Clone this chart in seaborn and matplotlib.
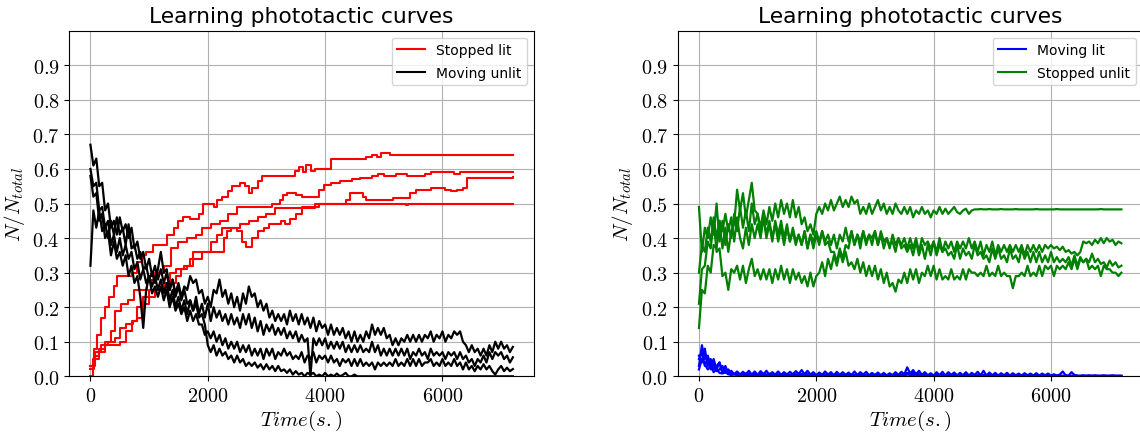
import numpy as np
import pandas as pd
import matplotlib
matplotlib.use("Agg")
import matplotlib.pyplot as plt
import seaborn as sns
from matplotlib.lines import Line2D
from matplotlib.ticker import FuncFormatter

# ---------------- data ----------------
# common sampling grid (seconds), one sample every 50 s from 0 to 7200
TIME = np.arange(0, 7201, 50)

# Left panel: "Moving unlit" (black, noisy) – 4 runs
MOVING_UNLIT_1 = [
    0.67, 0.61, 0.63, 0.55, 0.56, 0.48, 0.50, 0.43, 0.45, 0.41,
    0.46, 0.42, 0.44, 0.40, 0.43, 0.37, 0.39, 0.34, 0.36, 0.31,
    0.34, 0.29, 0.32, 0.28, 0.31, 0.27, 0.30, 0.25, 0.28, 0.24,
    0.27, 0.23, 0.26, 0.25, 0.29, 0.27, 0.28, 0.24, 0.25, 0.21,
    0.23, 0.20, 0.25, 0.24, 0.28, 0.23, 0.25, 0.21, 0.24, 0.20,
    0.23, 0.19, 0.24, 0.21, 0.26, 0.23, 0.24, 0.20, 0.22, 0.19,
    0.21, 0.17, 0.19, 0.16, 0.18, 0.16, 0.18, 0.15, 0.19, 0.16,
    0.18, 0.15, 0.18, 0.15, 0.17, 0.14, 0.17, 0.13, 0.16, 0.14,
    0.15, 0.12, 0.15, 0.12, 0.14, 0.12, 0.14, 0.11, 0.13, 0.10,
    0.13, 0.10, 0.12, 0.10, 0.13, 0.11, 0.15, 0.12, 0.14, 0.12,
    0.14, 0.11, 0.12, 0.09, 0.11, 0.09, 0.11, 0.10, 0.12, 0.10,
    0.12, 0.10, 0.12, 0.10, 0.12, 0.11, 0.13, 0.10, 0.12, 0.11,
    0.13, 0.10, 0.12, 0.11, 0.13, 0.12, 0.13, 0.10, 0.09, 0.07,
    0.09, 0.07, 0.08, 0.06, 0.08, 0.06, 0.09, 0.07, 0.10, 0.08,
    0.10, 0.08, 0.09, 0.07, 0.085]
MOVING_UNLIT_2 = [
    0.60, 0.55, 0.56, 0.48, 0.49, 0.43, 0.45, 0.38, 0.41, 0.36,
    0.40, 0.35, 0.38, 0.34, 0.36, 0.31, 0.33, 0.28, 0.31, 0.27,
    0.29, 0.26, 0.29, 0.25, 0.28, 0.24, 0.27, 0.22, 0.25, 0.20,
    0.23, 0.19, 0.22, 0.18, 0.22, 0.19, 0.23, 0.18, 0.21, 0.17,
    0.21, 0.16, 0.20, 0.17, 0.19, 0.16, 0.18, 0.15, 0.18, 0.15,
    0.17, 0.14, 0.18, 0.15, 0.18, 0.14, 0.17, 0.13, 0.16, 0.12,
    0.15, 0.13, 0.15, 0.12, 0.14, 0.12, 0.14, 0.11, 0.13, 0.11,
    0.13, 0.10, 0.12, 0.10, 0.11, 0.00, 0.11, 0.09, 0.11, 0.09,
    0.11, 0.08, 0.10, 0.08, 0.10, 0.08, 0.10, 0.07, 0.09, 0.07,
    0.09, 0.07, 0.09, 0.07, 0.08, 0.07, 0.10, 0.07, 0.09, 0.06,
    0.08, 0.06, 0.08, 0.06, 0.08, 0.06, 0.08, 0.06, 0.08, 0.05,
    0.07, 0.06, 0.08, 0.06, 0.07, 0.05, 0.08, 0.06, 0.07, 0.06,
    0.07, 0.05, 0.07, 0.06, 0.07, 0.05, 0.07, 0.05, 0.06, 0.04,
    0.05, 0.03, 0.05, 0.04, 0.06, 0.04, 0.07, 0.05, 0.07, 0.06,
    0.07, 0.05, 0.06, 0.04, 0.055]
MOVING_UNLIT_3 = [
    0.58, 0.52, 0.53, 0.45, 0.47, 0.40, 0.42, 0.35, 0.39, 0.34,
    0.36, 0.32, 0.35, 0.29, 0.32, 0.27, 0.29, 0.23, 0.14, 0.25,
    0.29, 0.24, 0.26, 0.23, 0.26, 0.22, 0.25, 0.20, 0.23, 0.19,
    0.21, 0.18, 0.20, 0.16, 0.19, 0.16, 0.18, 0.15, 0.15, 0.12,
    0.13, 0.11, 0.13, 0.10, 0.12, 0.09, 0.11, 0.08, 0.10, 0.08,
    0.10, 0.07, 0.09, 0.07, 0.09, 0.06, 0.08, 0.06, 0.08, 0.05,
    0.08, 0.06, 0.08, 0.05, 0.07, 0.06, 0.08, 0.06, 0.07, 0.05,
    0.06, 0.05, 0.07, 0.04, 0.06, 0.05, 0.07, 0.04, 0.06, 0.05,
    0.06, 0.04, 0.06, 0.04, 0.05, 0.03, 0.05, 0.04, 0.05, 0.03,
    0.05, 0.03, 0.05, 0.03, 0.04, 0.03, 0.04, 0.02, 0.04, 0.03,
    0.04, 0.03, 0.04, 0.03, 0.05, 0.03, 0.04, 0.03, 0.05, 0.03,
    0.05, 0.03, 0.05, 0.03, 0.04, 0.04, 0.05, 0.03, 0.04, 0.03,
    0.05, 0.03, 0.04, 0.03, 0.05, 0.03, 0.04, 0.02, 0.04, 0.02,
    0.03, 0.015, 0.03, 0.02, 0.035, 0.02, 0.03, 0.015, 0.005, 0.02,
    0.03, 0.015, 0.025, 0.015, 0.021]
MOVING_UNLIT_4 = [
    0.32, 0.48, 0.43, 0.48, 0.42, 0.44, 0.40, 0.45, 0.41, 0.46,
    0.41, 0.43, 0.38, 0.44, 0.37, 0.38, 0.34, 0.36, 0.31, 0.32,
    0.28, 0.30, 0.27, 0.31, 0.36, 0.30, 0.31, 0.25, 0.28, 0.23,
    0.26, 0.22, 0.25, 0.21, 0.22, 0.19, 0.21, 0.17, 0.18, 0.15,
    0.09, 0.07, 0.09, 0.06, 0.08, 0.06, 0.07, 0.05, 0.06, 0.04,
    0.06, 0.04, 0.05, 0.03, 0.04, 0.03, 0.04, 0.025, 0.035, 0.02,
    0.035, 0.02, 0.03, 0.015, 0.03, 0.015, 0.02, 0.01, 0.02, 0.005,
    0.015, 0.005, 0.01, 0.0, 0.01, 0.005, 0.01, 0.0, 0.005, 0.0,
    0.01, 0.0, 0.005, 0.0, 0.008, 0.0, 0.004, 0.01, 0.0, 0.0,
    0.005, 0.0, 0.0, 0.0, 0.0, 0.0, 0.0, 0.0, 0.0, 0.0,
    0.0, 0.0, 0.0, 0.0, 0.0, 0.0, 0.0, 0.0, 0.0, 0.0,
    0.0, 0.0, 0.0, 0.0, 0.0, 0.0, 0.0, 0.0, 0.0, 0.0,
    0.0, 0.0, 0.0, 0.0, 0.0, 0.0, 0.0, 0.0, 0.0, 0.0,
    0.0, 0.0, 0.0, 0.0, 0.0, 0.0, 0.0, 0.0, 0.0, 0.0,
    0.0, 0.0, 0.0, 0.0, 0.0]

# Left panel: "Stopped lit" (red, staircase) – change points (time, value)
STOP_LIT_1_T = [0, 60, 120, 180, 250, 320, 400, 450, 560, 700,
                800, 880, 950, 1060, 1180, 1300, 1420, 1500, 1580, 1700,
                1850, 1920, 2000, 2100, 2160, 2250, 2340, 2420, 2550, 2640,
                2700, 2760, 2850, 2920, 3200, 3480, 3560, 3620, 3680, 3760,
                3820, 4000, 4100, 4700, 4800, 4880, 4950, 5100, 7200]
STOP_LIT_1_V = [0.03, 0.08, 0.12, 0.17, 0.20, 0.23, 0.26, 0.29, 0.29, 0.30,
                0.33, 0.35, 0.36, 0.38, 0.38, 0.41, 0.43, 0.45, 0.46, 0.455,
                0.47, 0.50, 0.50, 0.49, 0.51, 0.52, 0.535, 0.55, 0.56, 0.55,
                0.53, 0.545, 0.565, 0.58, 0.58, 0.595, 0.605, 0.59, 0.61, 0.595,
                0.60, 0.60, 0.63, 0.635, 0.64, 0.635, 0.645, 0.64, 0.64]
STOP_LIT_2_T = [0, 50, 150, 250, 350, 420, 520, 640, 750, 880,
                960, 1100, 1250, 1380, 1500, 1650, 1800, 1900, 2050, 2200,
                2350, 2500, 3100, 3230, 3280, 3350, 3500, 3600, 3900, 3980,
                4100, 4250, 4450, 4600, 4800, 4900, 5000, 5200, 5400, 5700,
                5800, 6200, 6300, 6500, 7200]
STOP_LIT_2_V = [0.0, 0.05, 0.08, 0.10, 0.13, 0.19, 0.21, 0.22, 0.25, 0.25,
                0.28, 0.30, 0.32, 0.37, 0.39, 0.40, 0.41, 0.43, 0.44, 0.45,
                0.47, 0.49, 0.50, 0.51, 0.525, 0.53, 0.525, 0.52, 0.54, 0.555,
                0.56, 0.565, 0.57, 0.575, 0.58, 0.585, 0.58, 0.585, 0.58, 0.585,
                0.59, 0.585, 0.59, 0.592, 0.59]
STOP_LIT_3_T = [0, 60, 150, 250, 350, 500, 600, 700, 800, 900,
                1000, 1100, 1250, 1350, 1450, 1550, 1650, 1750, 1900, 2050,
                2150, 2250, 2400, 2500, 2580, 2650, 2750, 2850, 2950, 3050,
                3250, 3320, 3400, 3500, 3600, 3900, 4350, 4420, 4600, 4650,
                4700, 5150, 5450, 5550, 5800, 5950, 6050, 6150, 6250, 6350,
                6420, 7200]
STOP_LIT_3_V = [0.02, 0.06, 0.07, 0.09, 0.09, 0.10, 0.13, 0.16, 0.17, 0.21,
                0.23, 0.25, 0.25, 0.27, 0.29, 0.31, 0.32, 0.34, 0.36, 0.39,
                0.41, 0.43, 0.43, 0.42, 0.39, 0.375, 0.40, 0.42, 0.43, 0.44,
                0.45, 0.44, 0.455, 0.47, 0.49, 0.50, 0.51, 0.53, 0.53, 0.52,
                0.51, 0.515, 0.53, 0.54, 0.545, 0.545, 0.54, 0.535, 0.54, 0.545,
                0.575, 0.578]
STOP_LIT_4_T = [0, 80, 180, 300, 420, 500, 600, 720, 800, 900,
                1000, 1150, 1250, 1350, 1450, 1600, 1700, 1750, 2280, 2330,
                2400, 2550, 2700, 2850, 3000, 3150, 3820, 5380, 5420, 7200]
STOP_LIT_4_V = [0.03, 0.07, 0.09, 0.10, 0.11, 0.14, 0.15, 0.16, 0.20, 0.23,
                0.25, 0.25, 0.27, 0.30, 0.31, 0.32, 0.34, 0.36, 0.40, 0.42,
                0.43, 0.44, 0.45, 0.46, 0.47, 0.486, 0.50, 0.495, 0.50, 0.50]

# Right panel: "Stopped unlit" (green) – 4 runs
STOP_UNLIT_1 = [
    0.49, 0.36, 0.43, 0.40, 0.46, 0.41, 0.50, 0.39, 0.45, 0.38,
    0.44, 0.40, 0.47, 0.42, 0.49, 0.43, 0.48, 0.42, 0.50, 0.44,
    0.47, 0.43, 0.48, 0.44, 0.49, 0.45, 0.50, 0.46, 0.51, 0.47,
    0.50, 0.46, 0.51, 0.46, 0.49, 0.44, 0.46, 0.42, 0.44, 0.41,
    0.47, 0.49, 0.47, 0.50, 0.48, 0.51, 0.48, 0.50, 0.52, 0.49,
    0.51, 0.49, 0.52, 0.50, 0.51, 0.47, 0.49, 0.47, 0.50, 0.47,
    0.49, 0.51, 0.48, 0.50, 0.47, 0.49, 0.47, 0.50, 0.48, 0.47,
    0.49, 0.47, 0.49, 0.46, 0.48, 0.47, 0.49, 0.47, 0.48, 0.46,
    0.48, 0.47, 0.49, 0.47, 0.485, 0.47, 0.48, 0.49, 0.475, 0.47,
    0.48, 0.485, 0.47, 0.48, 0.483, 0.483, 0.484, 0.483, 0.483, 0.484,
    0.483, 0.483, 0.483, 0.484, 0.483, 0.483, 0.483, 0.483, 0.484, 0.483,
    0.483, 0.483, 0.483, 0.483, 0.483, 0.484, 0.483, 0.483, 0.483, 0.483,
    0.483, 0.483, 0.484, 0.483, 0.483, 0.483, 0.483, 0.483, 0.483, 0.483,
    0.483, 0.483, 0.483, 0.483, 0.483, 0.483, 0.483, 0.484, 0.483, 0.483,
    0.483, 0.483, 0.483, 0.483, 0.483]
STOP_UNLIT_2 = [
    0.30, 0.38, 0.36, 0.43, 0.39, 0.46, 0.40, 0.45, 0.37, 0.43,
    0.36, 0.42, 0.44, 0.54, 0.48, 0.53, 0.46, 0.51, 0.56, 0.48,
    0.47, 0.41, 0.46, 0.40, 0.44, 0.39, 0.45, 0.41, 0.45, 0.40,
    0.44, 0.39, 0.43, 0.39, 0.41, 0.38, 0.42, 0.37, 0.41, 0.39,
    0.42, 0.39, 0.42, 0.39, 0.41, 0.38, 0.41, 0.37, 0.41, 0.39,
    0.43, 0.39, 0.42, 0.38, 0.41, 0.37, 0.42, 0.38, 0.41, 0.40,
    0.42, 0.38, 0.42, 0.39, 0.40, 0.37, 0.41, 0.38, 0.40, 0.38,
    0.40, 0.37, 0.40, 0.37, 0.40, 0.36, 0.40, 0.38, 0.39, 0.37,
    0.39, 0.36, 0.40, 0.36, 0.39, 0.37, 0.39, 0.36, 0.39, 0.37,
    0.39, 0.37, 0.40, 0.37, 0.39, 0.36, 0.39, 0.35, 0.38, 0.36,
    0.39, 0.35, 0.38, 0.36, 0.38, 0.36, 0.38, 0.36, 0.38, 0.36,
    0.38, 0.35, 0.38, 0.36, 0.38, 0.36, 0.38, 0.36, 0.38, 0.37,
    0.38, 0.37, 0.375, 0.365, 0.375, 0.36, 0.365, 0.355, 0.36, 0.35,
    0.36, 0.39, 0.385, 0.39, 0.38, 0.395, 0.385, 0.40, 0.385, 0.40,
    0.39, 0.395, 0.38, 0.39, 0.385]
STOP_UNLIT_3 = [
    0.14, 0.25, 0.24, 0.32, 0.30, 0.38, 0.37, 0.45, 0.42, 0.47,
    0.42, 0.46, 0.39, 0.46, 0.40, 0.37, 0.43, 0.38, 0.44, 0.40,
    0.44, 0.40, 0.46, 0.41, 0.45, 0.40, 0.44, 0.39, 0.43, 0.38,
    0.43, 0.39, 0.42, 0.38, 0.41, 0.38, 0.42, 0.37, 0.41, 0.37,
    0.41, 0.38, 0.42, 0.38, 0.39, 0.36, 0.36, 0.33, 0.37, 0.34,
    0.38, 0.37, 0.42, 0.38, 0.41, 0.39, 0.42, 0.39, 0.41, 0.38,
    0.42, 0.38, 0.41, 0.37, 0.40, 0.38, 0.39, 0.36, 0.40, 0.37,
    0.38, 0.36, 0.38, 0.35, 0.39, 0.35, 0.38, 0.34, 0.38, 0.35,
    0.39, 0.35, 0.38, 0.36, 0.37, 0.35, 0.36, 0.34, 0.38, 0.34,
    0.37, 0.35, 0.36, 0.34, 0.38, 0.35, 0.36, 0.34, 0.35, 0.33,
    0.37, 0.34, 0.37, 0.34, 0.35, 0.33, 0.37, 0.34, 0.35, 0.33,
    0.37, 0.34, 0.36, 0.33, 0.36, 0.33, 0.36, 0.33, 0.35, 0.33,
    0.36, 0.33, 0.345, 0.33, 0.34, 0.33, 0.345, 0.32, 0.35, 0.32,
    0.345, 0.33, 0.34, 0.33, 0.355, 0.33, 0.34, 0.325, 0.33, 0.315,
    0.335, 0.32, 0.33, 0.315, 0.32]
STOP_UNLIT_4 = [
    0.21, 0.31, 0.32, 0.39, 0.37, 0.45, 0.36, 0.37, 0.29, 0.30,
    0.25, 0.31, 0.30, 0.32, 0.28, 0.32, 0.27, 0.31, 0.34, 0.29,
    0.31, 0.28, 0.31, 0.28, 0.31, 0.27, 0.31, 0.28, 0.32, 0.28,
    0.31, 0.27, 0.31, 0.28, 0.30, 0.27, 0.29, 0.26, 0.30, 0.26,
    0.29, 0.30, 0.33, 0.29, 0.34, 0.31, 0.35, 0.32, 0.36, 0.33,
    0.36, 0.32, 0.33, 0.31, 0.34, 0.30, 0.33, 0.29, 0.32, 0.29,
    0.32, 0.28, 0.31, 0.27, 0.30, 0.26, 0.27, 0.245, 0.28, 0.27,
    0.30, 0.27, 0.31, 0.28, 0.31, 0.27, 0.30, 0.29, 0.32, 0.29,
    0.32, 0.28, 0.31, 0.28, 0.29, 0.28, 0.31, 0.28, 0.29, 0.28,
    0.31, 0.28, 0.31, 0.30, 0.30, 0.29, 0.30, 0.29, 0.32, 0.29,
    0.30, 0.29, 0.32, 0.29, 0.30, 0.29, 0.29, 0.255, 0.29, 0.29,
    0.30, 0.29, 0.32, 0.29, 0.30, 0.29, 0.32, 0.29, 0.32, 0.31,
    0.32, 0.29, 0.32, 0.31, 0.32, 0.31, 0.33, 0.31, 0.34, 0.31,
    0.34, 0.33, 0.34, 0.31, 0.32, 0.31, 0.32, 0.29, 0.32, 0.31,
    0.31, 0.30, 0.30, 0.29, 0.30]

# Right panel: "Moving lit" (blue) – 4 runs, all close to zero
MOVING_LIT_1 = [
    0.03, 0.09, 0.05, 0.06, 0.03, 0.05, 0.02, 0.04, 0.01, 0.03,
    0.008, 0.016, 0.006, 0.014, 0.005, 0.013, 0.006, 0.016, 0.005, 0.014,
    0.004, 0.015, 0.006, 0.016, 0.004, 0.012, 0.005, 0.014, 0.004, 0.012,
    0.005, 0.013, 0.006, 0.015, 0.007, 0.018, 0.006, 0.016, 0.005, 0.012,
    0.003, 0.011, 0.004, 0.014, 0.005, 0.012, 0.003, 0.013, 0.004, 0.012,
    0.004, 0.011, 0.003, 0.014, 0.004, 0.012, 0.005, 0.013, 0.003, 0.01,
    0.004, 0.011, 0.003, 0.01, 0.002, 0.009, 0.003, 0.012, 0.004, 0.013,
    0.006, 0.026, 0.008, 0.018, 0.006, 0.016, 0.004, 0.012, 0.003, 0.009,
    0.002, 0.012, 0.003, 0.013, 0.002, 0.012, 0.004, 0.011, 0.003, 0.01,
    0.003, 0.012, 0.002, 0.01, 0.004, 0.013, 0.003, 0.016, 0.002, 0.011,
    0.003, 0.01, 0.002, 0.009, 0.003, 0.01, 0.002, 0.009, 0.003, 0.008,
    0.002, 0.009, 0.003, 0.008, 0.002, 0.009, 0.002, 0.008, 0.003, 0.008,
    0.002, 0.006, 0.002, 0.005, 0.014, 0.003, 0.002, 0.012, 0.004, 0.002,
    0.002, 0.003, 0.002, 0.003, 0.002, 0.003, 0.002, 0.002, 0.003, 0.002,
    0.002, 0.003, 0.002, 0.002, 0.002]
MOVING_LIT_2 = [
    0.06, 0.04, 0.08, 0.03, 0.05, 0.02, 0.03, 0.04, 0.01, 0.02,
    0.008, 0.005, 0.008, 0.004, 0.006, 0.004, 0.008, 0.005, 0.003, 0.006,
    0.004, 0.008, 0.005, 0.003, 0.006, 0.004, 0.002, 0.005, 0.003, 0.006,
    0.004, 0.002, 0.004, 0.006, 0.003, 0.005, 0.008, 0.004, 0.006, 0.003,
    0.002, 0.004, 0.006, 0.003, 0.005, 0.002, 0.004, 0.006, 0.003, 0.002,
    0.004, 0.006, 0.003, 0.004, 0.002, 0.005, 0.003, 0.004, 0.002, 0.003,
    0.002, 0.004, 0.003, 0.002, 0.004, 0.003, 0.002, 0.004, 0.003, 0.005,
    0.006, 0.01, 0.008, 0.006, 0.004, 0.003, 0.005, 0.003, 0.002, 0.004,
    0.003, 0.002, 0.004, 0.003, 0.002, 0.003, 0.004, 0.002, 0.003, 0.002,
    0.004, 0.002, 0.003, 0.002, 0.003, 0.002, 0.004, 0.003, 0.002, 0.003,
    0.002, 0.003, 0.002, 0.001, 0.002, 0.003, 0.002, 0.001, 0.002, 0.001,
    0.002, 0.001, 0.002, 0.001, 0.002, 0.001, 0.002, 0.001, 0.001, 0.002,
    0.001, 0.001, 0.002, 0.001, 0.001, 0.001, 0.0, 0.001, 0.0, 0.001,
    0.0, 0.0, 0.0, 0.0, 0.0, 0.0, 0.0, 0.0, 0.0, 0.0,
    0.0, 0.0, 0.0, 0.0, 0.0]
MOVING_LIT_3 = [
    0.05, 0.07, 0.03, 0.055, 0.02, 0.04, 0.015, 0.02, 0.03, 0.01,
    0.02, 0.008, 0.006, 0.01, 0.006, 0.008, 0.005, 0.007, 0.005, 0.008,
    0.006, 0.004, 0.007, 0.005, 0.008, 0.004, 0.006, 0.005, 0.004, 0.006,
    0.005, 0.004, 0.006, 0.004, 0.005, 0.007, 0.004, 0.006, 0.005, 0.004,
    0.003, 0.005, 0.004, 0.006, 0.003, 0.005, 0.004, 0.003, 0.005, 0.004,
    0.003, 0.004, 0.005, 0.003, 0.004, 0.003, 0.005, 0.004, 0.003, 0.004,
    0.003, 0.002, 0.004, 0.003, 0.002, 0.003, 0.004, 0.002, 0.003, 0.004,
    0.005, 0.008, 0.006, 0.01, 0.008, 0.006, 0.004, 0.005, 0.003, 0.004,
    0.003, 0.004, 0.002, 0.003, 0.004, 0.002, 0.003, 0.004, 0.002, 0.003,
    0.002, 0.003, 0.004, 0.002, 0.003, 0.002, 0.003, 0.004, 0.002, 0.003,
    0.002, 0.003, 0.002, 0.003, 0.002, 0.002, 0.003, 0.002, 0.002, 0.003,
    0.002, 0.002, 0.003, 0.002, 0.002, 0.003, 0.002, 0.002, 0.003, 0.002,
    0.002, 0.002, 0.001, 0.002, 0.001, 0.002, 0.001, 0.001, 0.002, 0.001,
    0.001, 0.001, 0.001, 0.001, 0.001, 0.001, 0.001, 0.001, 0.001, 0.001,
    0.001, 0.001, 0.001, 0.001, 0.001]
MOVING_LIT_4 = [
    0.02, 0.05, 0.035, 0.02, 0.03, 0.012, 0.02, 0.01, 0.008, 0.012,
    0.006, 0.004, 0.006, 0.003, 0.005, 0.003, 0.004, 0.002, 0.004, 0.003,
    0.002, 0.003, 0.002, 0.004, 0.002, 0.003, 0.002, 0.003, 0.002, 0.004,
    0.003, 0.002, 0.003, 0.002, 0.004, 0.003, 0.002, 0.003, 0.002, 0.003,
    0.002, 0.003, 0.002, 0.004, 0.002, 0.003, 0.002, 0.003, 0.002, 0.003,
    0.002, 0.003, 0.002, 0.002, 0.003, 0.002, 0.003, 0.002, 0.002, 0.003,
    0.002, 0.002, 0.003, 0.002, 0.002, 0.003, 0.002, 0.002, 0.003, 0.002,
    0.003, 0.005, 0.004, 0.003, 0.002, 0.003, 0.002, 0.003, 0.002, 0.002,
    0.002, 0.003, 0.002, 0.002, 0.003, 0.002, 0.002, 0.003, 0.002, 0.002,
    0.002, 0.003, 0.002, 0.002, 0.002, 0.003, 0.002, 0.002, 0.002, 0.003,
    0.002, 0.002, 0.002, 0.001, 0.002, 0.002, 0.001, 0.002, 0.002, 0.001,
    0.002, 0.001, 0.002, 0.001, 0.002, 0.001, 0.002, 0.001, 0.002, 0.001,
    0.001, 0.001, 0.001, 0.001, 0.001, 0.001, 0.001, 0.001, 0.001, 0.001,
    0.0, 0.0, 0.0, 0.0, 0.0, 0.0, 0.0, 0.0, 0.0, 0.0,
    0.0, 0.0, 0.0, 0.0, 0.0]

TITLE = "Learning phototactic curves"
X_TICKS = [0, 2000, 4000, 6000]
Y_TICKS = [0.0, 0.1, 0.2, 0.3, 0.4, 0.5, 0.6, 0.7, 0.8, 0.9]


def grid_frame(runs):
    parts = []
    for i, vals in enumerate(runs):
        assert len(vals) == len(TIME), (i, len(vals))
        parts.append(pd.DataFrame({"time": TIME, "value": vals, "run": i}))
    return pd.concat(parts, ignore_index=True)


def step_frame(runs):
    parts = []
    for i, (t, v) in enumerate(runs):
        assert len(t) == len(v), (i, len(t), len(v))
        parts.append(pd.DataFrame({"time": t, "value": v, "run": i}))
    return pd.concat(parts, ignore_index=True)


black_df = grid_frame([MOVING_UNLIT_1, MOVING_UNLIT_2, MOVING_UNLIT_3, MOVING_UNLIT_4])
red_df = step_frame([(STOP_LIT_1_T, STOP_LIT_1_V), (STOP_LIT_2_T, STOP_LIT_2_V),
                     (STOP_LIT_3_T, STOP_LIT_3_V), (STOP_LIT_4_T, STOP_LIT_4_V)])
green_df = grid_frame([STOP_UNLIT_1, STOP_UNLIT_2, STOP_UNLIT_3, STOP_UNLIT_4])
blue_df = grid_frame([MOVING_LIT_1, MOVING_LIT_2, MOVING_LIT_3, MOVING_LIT_4])

# ---------------- style ----------------
plt.rcParams.update({
    "font.family": ["DejaVu Sans"],
    "mathtext.fontset": "cm",
    "axes.linewidth": 0.8,
    "axes.edgecolor": "black",
})

fig = plt.figure(figsize=(11.4, 4.35), dpi=100)
ax1 = fig.add_axes([0.0608, 0.1326, 0.4076, 0.7945])
ax2 = fig.add_axes([0.5946, 0.1326, 0.4076, 0.7945])

LW = 1.5
sns.lineplot(data=red_df, x="time", y="value", units="run", estimator=None,
             sort=False, color="red", lw=LW, drawstyle="steps-post",
             legend=False, ax=ax1)
sns.lineplot(data=black_df, x="time", y="value", units="run", estimator=None,
             sort=False, color="black", lw=1.6, legend=False, ax=ax1)

sns.lineplot(data=blue_df, x="time", y="value", units="run", estimator=None,
             sort=False, color="blue", lw=1.6, legend=False, ax=ax2)
sns.lineplot(data=green_df, x="time", y="value", units="run", estimator=None,
             sort=False, color="green", lw=1.6, legend=False, ax=ax2)

legends = [
    (ax1, [("Stopped lit", "red"), ("Moving unlit", "black")]),
    (ax2, [("Moving lit", "blue"), ("Stopped unlit", "green")]),
]
for ax, items in legends:
    ax.set_xlim(-360, 7560)
    ax.set_ylim(0, 1.0)
    ax.set_xticks(X_TICKS)
    ax.set_yticks(Y_TICKS)
    ax.xaxis.set_major_formatter(FuncFormatter(lambda v, p: f"${v:.0f}$"))
    ax.yaxis.set_major_formatter(FuncFormatter(lambda v, p: f"${v:.1f}$"))
    ax.tick_params(labelsize=14.5, length=3.5, width=0.8, color="black")
    ax.grid(True, color="#b0b0b0", lw=0.8)
    ax.set_axisbelow(True)
    ax.set_xlabel(r"$Time(s.)$", fontsize=15, labelpad=2)
    ax.set_ylabel(r"$N/N_{total}$", fontsize=15, labelpad=4)
    ax.set_title(TITLE, fontsize=15.7, pad=6)
    handles = [Line2D([], [], color=c, lw=LW, label=l) for l, c in items]
    ax.legend(handles=handles, loc="upper right", fontsize=10, framealpha=0.8,
              edgecolor="0.8", handlelength=2.0, labelspacing=0.6)

fig.savefig("out.png", dpi=100)
